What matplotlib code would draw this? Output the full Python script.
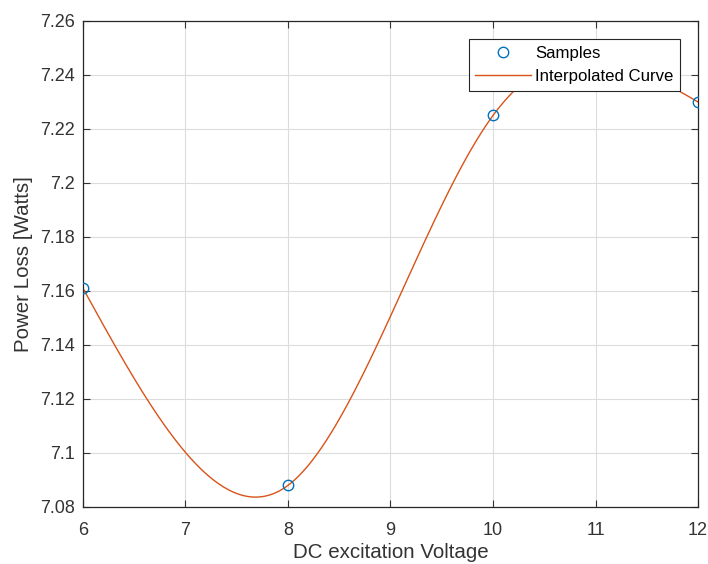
import numpy as np
import matplotlib
matplotlib.use("Agg")
import matplotlib.pyplot as plt

plt.rcParams['font.family'] = ['Liberation Sans', 'DejaVu Sans']

# measured samples
voltage = [6, 8, 10, 12]
power_loss = [7.161, 7.088, 7.225, 7.230]

xticks = [6, 7, 8, 9, 10, 11, 12]
yticks = [7.08, 7.10, 7.12, 7.14, 7.16, 7.18, 7.20, 7.22, 7.24, 7.26]
ytick_labels = ['7.08', '7.1', '7.12', '7.14', '7.16', '7.18', '7.2', '7.22', '7.24', '7.26']


def natural_spline(x, y, xq):
    # natural cubic spline through (x, y), evaluated at xq
    x = np.asarray(x, float)
    y = np.asarray(y, float)
    n = len(x)
    h = np.diff(x)
    A = np.zeros((n, n))
    b = np.zeros(n)
    A[0, 0] = A[-1, -1] = 1
    for i in range(1, n - 1):
        A[i, i - 1] = h[i - 1]
        A[i, i] = 2 * (h[i - 1] + h[i])
        A[i, i + 1] = h[i]
        b[i] = 6 * ((y[i + 1] - y[i]) / h[i] - (y[i] - y[i - 1]) / h[i - 1])
    M = np.linalg.solve(A, b)
    k = np.clip(np.searchsorted(x, xq) - 1, 0, n - 2)
    hk = h[k]
    a = x[k + 1] - xq
    c = xq - x[k]
    return (M[k] * a ** 3 / (6 * hk) + M[k + 1] * c ** 3 / (6 * hk)
            + (y[k] / hk - M[k] * hk / 6) * a
            + (y[k + 1] / hk - M[k + 1] * hk / 6) * c)


xs = np.linspace(voltage[0], voltage[-1], 400)
ys = natural_spline(voltage, power_loss, xs)

fig = plt.figure(figsize=(7.08, 5.64), dpi=100)
ax = fig.add_axes([0.1172, 0.1011, 0.8687, 0.8617])

ax.plot(voltage, power_loss, 'o', color='#0072BD', markerfacecolor='none',
        markersize=7.5, markeredgewidth=1.0, label='Samples', zorder=3)
ax.plot(xs, ys, '-', color='#D95319', linewidth=1.0, label='Interpolated Curve')

ax.set_xlim(6, 12)
ax.set_ylim(7.08, 7.26)
ax.set_xticks(xticks)
ax.set_yticks(yticks)
ax.set_yticklabels(ytick_labels)
ax.grid(True, color='#dcdcdc', linewidth=0.8)
ax.set_axisbelow(True)

for side in ax.spines.values():
    side.set_color('#262626')
    side.set_linewidth(0.9)
ax.tick_params(direction='in', length=5, width=0.8, top=True, right=True,
               labelsize=13, colors='#333333')
ax.tick_params(axis='x', pad=11)
ax.tick_params(axis='y', pad=6)

ax.set_xlabel('DC excitation Voltage', fontsize=14.8, color='#333333')
ax.set_ylabel('Power Loss [Watts]', fontsize=14.8, color='#333333')
ax.xaxis.set_label_coords(0.5, -0.094)
ax.xaxis.label.set_va('center')
ax.yaxis.set_label_coords(-0.096, 0.5)
ax.yaxis.label.set_va('center')

leg = ax.legend(loc='upper right', bbox_to_anchor=(0.971, 0.963), fontsize=12.1,
                frameon=True, fancybox=False, framealpha=1, edgecolor='#262626',
                borderpad=0.4, handlelength=3.3, handletextpad=0.25,
                labelspacing=0.5, borderaxespad=0)
leg.get_frame().set_linewidth(0.8)

fig.savefig('out.png', dpi=100)
